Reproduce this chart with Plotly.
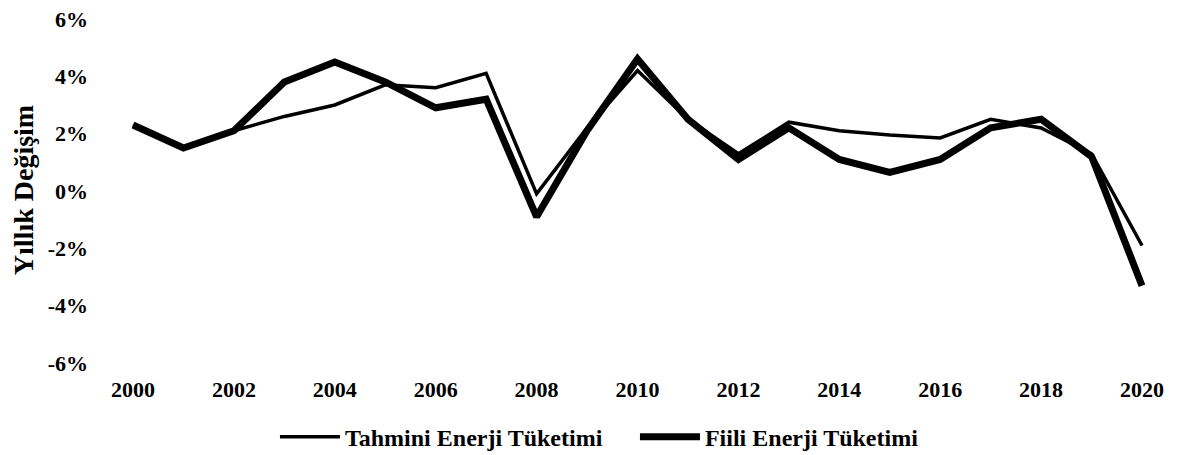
import plotly.graph_objects as go

years = list(range(2000, 2021))
tahmini = [2.3, 1.5, 2.1, 2.6, 3.0, 3.7, 3.6, 4.1, -0.1, 2.2, 4.2, 2.5, 1.3, 2.4, 2.1, 1.95, 1.85, 2.5, 2.2, 1.3, -1.9]
fiili = [2.3, 1.5, 2.1, 3.8, 4.5, 3.8, 2.9, 3.2, -0.9, 2.1, 4.6, 2.5, 1.1, 2.2, 1.1, 0.65, 1.1, 2.2, 2.5, 1.2, -3.3]
tick_years = list(range(2000, 2021, 2))
tick_vals_y = [-6, -4, -2, 0, 2, 4, 6]
tick_text_y = [f"{v}%" for v in tick_vals_y]

font_family = "Liberation Serif"

fig = go.Figure()
fig.add_trace(go.Scatter(x=years, y=tahmini, mode="lines", name="Tahmini Enerji Tüketimi",
                         line=dict(color="black", width=3.5)))
fig.add_trace(go.Scatter(x=years, y=fiili, mode="lines", name="Fiili Enerji Tüketimi",
                         line=dict(color="black", width=7)))

fig.update_layout(
    width=1176, height=447,
    margin=dict(l=102, r=20, t=2, b=85, autoexpand=False),
    paper_bgcolor="white", plot_bgcolor="white",
    font=dict(family=font_family, color="black"),
    showlegend=True,
    legend=dict(orientation="h", x=0.1565, xanchor="left", yref="container", y=0.04, yanchor="middle",
                font=dict(family=font_family, size=24, color="black", weight="bold"),
                itemwidth=60, entrywidth=285, traceorder="normal"),
)
fig.update_xaxes(range=[1999.544, 2020.436], tickvals=tick_years, showgrid=False, zeroline=False,
                 showline=False, ticks="", ticklabelstandoff=4, automargin=False,
                 ticklabeloverflow="allow",
                 tickfont=dict(family=font_family, size=22, weight="bold", color="black"))
fig.update_yaxes(range=[-6.24, 6.31], tickvals=tick_vals_y, ticktext=tick_text_y, showgrid=False,
                 zeroline=False, showline=False, ticks="", ticklabelstandoff=21, automargin=False,
                 ticklabeloverflow="allow",
                 tickfont=dict(family=font_family, size=22, weight="bold", color="black"),
                 title=dict(text="Yıllık Değişim", standoff=10,
                            font=dict(family=font_family, size=28, color="black", weight="bold")))

fig.write_html("out.html")
